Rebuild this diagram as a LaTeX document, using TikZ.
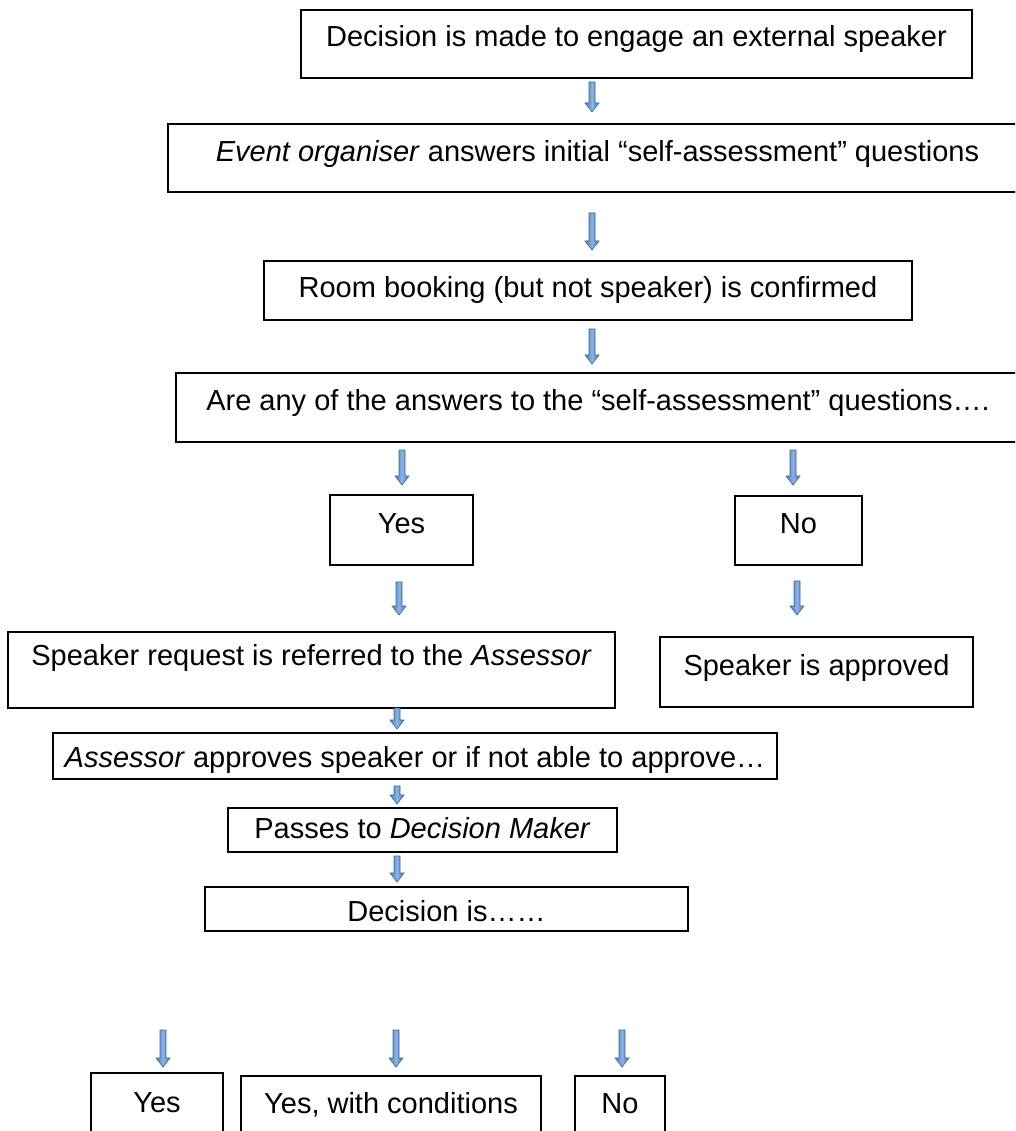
\documentclass[tikz,border=0pt]{standalone}
\usepackage{fontspec}
\setmainfont{Liberation Sans}
\definecolor{abord}{RGB}{60,100,150}
\definecolor{adark}{RGB}{74,126,187}
\definecolor{alight}{RGB}{140,178,224}
\tikzset{
  flowbox/.style={draw=black, line width=1.6pt, rectangle, inner sep=0pt, outer sep=0pt,
    anchor=north west, font=\fontsize{29}{34}\selectfont, align=center},
  blockarrow/.style={draw=abord, line width=0.6pt, left color=adark, right color=adark, middle color=alight}
}
\newcommand\blockarr[3]{%
  \path[blockarrow] (#1-3,#2) -- (#1+3,#2) -- (#1+3,#3-9) -- (#1+7,#3-9) -- (#1,#3)
    -- (#1-7,#3-9) -- (#1-3,#3-9) -- cycle;}
\begin{document}
\begin{tikzpicture}[x=1pt,y=-1pt]
\clip (0,0) rectangle (1015,1131);
\fill[white] (0,0) rectangle (1015,1131);
% boxes
\node[flowbox, minimum width=671pt, text height=37pt, text depth=31pt] (b1) at (301,10)
  {Decision is made to engage an external speaker};
\node[flowbox, minimum width=859pt, text height=38pt, text depth=30pt] (b2) at (168,124)
  {\textit{Event organiser} answers initial “self-assessment” questions};
\node[flowbox, minimum width=648pt, text height=37pt, text depth=22pt] (b3) at (264,261)
  {Room booking (but not speaker) is confirmed};
\node[flowbox, minimum width=844pt, text height=37pt, text depth=32pt] (b4) at (176,373)
  {Are any of the answers to the “self-assessment” questions….};
\node[flowbox, minimum width=143pt, text height=38pt, text depth=32pt] (yes1) at (330,495) {Yes};
\node[flowbox, minimum width=127pt, text height=37pt, text depth=32pt] (no1) at (735,496) {No};
\node[flowbox, minimum width=607pt, text height=33pt, text depth=43pt] (req) at (8,632)
  {Speaker request is referred to the \textit{Assessor}};
\node[flowbox, minimum width=313pt, text height=38pt, text depth=32pt] (appr) at (660,637)
  {Speaker is approved};
\node[flowbox, minimum width=724pt, text height=34pt, text depth=12pt] (assess) at (53,733)
  {\textit{Assessor} approves speaker or if not able to approve…};
\node[flowbox, minimum width=389pt, text height=30pt, text depth=14pt] (pass) at (228,808)
  {Passes to \textit{Decision Maker}};
\node[flowbox, minimum width=483pt, text height=34pt, text depth=10pt] (dec) at (205,887)
  {Decision is……};
\node[flowbox, minimum width=132pt, text height=39pt, text depth=40pt] (yes2) at (91,1073) {Yes};
\node[flowbox, minimum width=300pt, text height=37pt, text depth=40pt] (yesc) at (241,1076)
  {Yes, with conditions};
\node[flowbox, minimum width=90pt, text height=37pt, text depth=40pt] (no2) at (575,1076) {No};
% arrows
\blockarr{592}{82}{112}
\blockarr{592}{213}{250}
\blockarr{592}{329}{364}
\blockarr{402}{450}{485}
\blockarr{793}{450}{485}
\blockarr{399}{582}{615}
\blockarr{797}{581}{615}
\blockarr{397}{708}{729}
\blockarr{397}{786}{804}
\blockarr{397}{856}{882}
\blockarr{163}{1030}{1067}
\blockarr{396}{1030}{1067}
\blockarr{622}{1030}{1067}
\end{tikzpicture}
\end{document}
